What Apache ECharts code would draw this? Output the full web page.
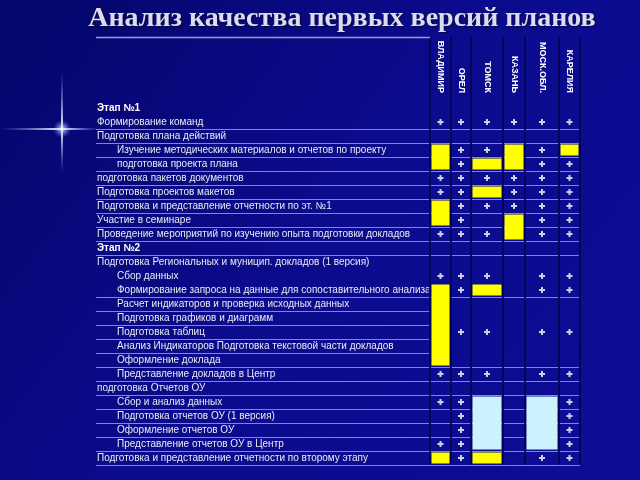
<!DOCTYPE html>
<html>
<head>
<meta charset="utf-8">
<script src="https://cdn.jsdelivr.net/npm/echarts@6/dist/echarts.min.js"></script>
<style>
  html, body { margin: 0; padding: 0; background: #0a0a88; }
  #chart { width: 640px; height: 480px; }
</style>
</head>
<body>
<div id="chart"></div>
<script>
// Регионы (столбцы)
var regions = ['ВЛАДИМИР', 'ОРЕЛ', 'ТОМСК', 'КАЗАНЬ', 'МОСК.ОБЛ.', 'КАРЕЛИЯ'];

// Строки таблицы
var tasks = [
  'Этап №1',
  'Формирование команд',
  'Подготовка плана действий',
  'Изучение методических материалов и отчетов по проекту',
  'подготовка проекта плана',
  'подготовка пакетов документов',
  'Подготовка проектов макетов',
  'Подготовка и представление отчетности по эт. №1',
  'Участие в семинаре',
  'Проведение мероприятий по изучению опыта подготовки докладов',
  'Этап №2',
  'Подготовка Региональных и муницип. докладов (1 версия)',
  'Сбор данных',
  'Формирование запроса на данные для сопоставительного анализа',
  'Расчет индикаторов и проверка исходных данных',
  'Подготовка графиков и диаграмм',
  'Подготовка таблиц',
  'Анализ Индикаторов Подготовка текстовой части докладов',
  'Оформление доклада',
  'Представление докладов в Центр',
  'подготовка Отчетов ОУ',
  'Сбор и анализ данных',
  'Подготовка отчетов ОУ (1 версия)',
  'Оформление отчетов ОУ',
  'Представление отчетов ОУ в Центр',
  'Подготовка и представление отчетности по второму этапу'
];

// 2 = заголовок этапа, 1 = подпункт, 0 = пункт
var level = [2, 0, 0, 1, 1, 0, 0, 0, 0, 0, 2, 0, 1, 1, 1, 1, 1, 1, 1, 1, 0, 1, 1, 1, 1, 0];

// Отметки по регионам: '+' выполнено, 'Y' желтая ячейка, 'B' голубая ячейка, '.' пусто
var marks = [
  '......',
  '++++++',
  '......',
  'Y++Y+Y',
  'Y+YY++',
  '++++++',
  '++Y+++',
  'Y+++++',
  'Y+.Y++',
  '+++Y++',
  '......',
  '......',
  '+++.++',
  'Y+Y.++',
  'Y.....',
  'Y.....',
  'Y++.++',
  'Y.....',
  'Y.....',
  '+++.++',
  '......',
  '++B.B+',
  '.+B.B+',
  '.+B.B+',
  '++B.B+',
  'Y+Y.++'
];

// Строки без линии снизу (в подписях и в ячейках)
var noLineRows = [0, 11, 12];
var noLineCellRows = [0, 11, 12, 14, 15, 16, 17];

// Разметка (в пикселях от левого края таблицы)
var colEdges = [334, 355, 375, 407, 429, 463, 484];
var headerHeight = 64;
var fillColors = { Y: '#ffff00', B: '#ccf2ff' };

var centers = [];
for (var c = 0; c < regions.length; c++) {
  centers.push((colEdges[c] + colEdges[c + 1]) / 2);
}

// Плюсы
var plusData = [];
for (var r = 0; r < marks.length; r++) {
  for (var c = 0; c < regions.length; c++) {
    if (marks[r][c] === '+') plusData.push([centers[c], r]);
  }
}

// Цветные блоки (соседние одинаковые ячейки объединяются)
var fillData = [];
for (var c = 0; c < regions.length; c++) {
  var r = 0;
  while (r < marks.length) {
    var t = marks[r][c];
    if (t === 'Y' || t === 'B') {
      var start = r;
      while (r + 1 < marks.length && marks[r + 1][c] === t) r++;
      fillData.push([colEdges[c], start, colEdges[c + 1], r, t]);
    }
    r++;
  }
}

// Горизонтальные линии
var lineData = [];
for (var r = 0; r < marks.length; r++) {
  if (noLineRows.indexOf(r) < 0) lineData.push([0, r, colEdges[0]]);
  if (noLineCellRows.indexOf(r) < 0) lineData.push([colEdges[0], r, colEdges[colEdges.length - 1]]);
}

var chart = echarts.init(document.getElementById('chart'));

var option = {
  backgroundColor: {
    type: 'linear', x: 0, y: 0, x2: 1, y2: 1,
    colorStops: [
      { offset: 0, color: '#05056a' },
      { offset: 0.5, color: '#0b0b8e' },
      { offset: 1, color: '#0d0d96' }
    ]
  },
  title: {
    text: 'Анализ качества первых версий планов',
    left: 337,
    textAlign: 'center',
    top: 0,
    textStyle: {
      fontFamily: 'Liberation Serif',
      fontWeight: 'bold',
      fontSize: 28,
      color: '#dcdcee',
      textShadowColor: 'rgba(0,0,0,0.6)',
      textShadowBlur: 2,
      textShadowOffsetX: 1,
      textShadowOffsetY: 1
    }
  },
  graphic: [
    {
      type: 'rect', silent: true,
      shape: { x: 0, y: 128, width: 100, height: 2 },
      style: {
        fill: {
          type: 'linear', x: 0, y: 0, x2: 1, y2: 0,
          colorStops: [
            { offset: 0, color: 'rgba(120,150,255,0)' },
            { offset: 0.62, color: 'rgba(255,255,255,1)' },
            { offset: 1, color: 'rgba(120,150,255,0)' }
          ]
        }
      }
    },
    {
      type: 'rect', silent: true,
      shape: { x: 61, y: 72, width: 2, height: 100 },
      style: {
        fill: {
          type: 'linear', x: 0, y: 0, x2: 0, y2: 1,
          colorStops: [
            { offset: 0, color: 'rgba(120,150,255,0)' },
            { offset: 0.57, color: 'rgba(255,255,255,1)' },
            { offset: 1, color: 'rgba(120,150,255,0)' }
          ]
        }
      }
    },
    {
      type: 'circle', silent: true,
      shape: { cx: 62, cy: 129, r: 9 },
      style: {
        fill: {
          type: 'radial', x: 0.5, y: 0.5, r: 0.5,
          colorStops: [
            { offset: 0, color: 'rgba(255,255,255,0.9)' },
            { offset: 1, color: 'rgba(100,140,255,0)' }
          ]
        }
      }
    }
  ],
  grid: {
    left: 96,
    right: 60,
    top: 101,
    bottom: 15
  },
  xAxis: {
    type: 'value',
    min: 0,
    max: colEdges[colEdges.length - 1],
    position: 'top',
    axisLine: { show: false },
    axisTick: { show: false },
    splitLine: { show: false },
    axisLabel: {
      customValues: centers,
      rotate: 90,
      margin: 8,
      color: '#ffffff',
      fontFamily: 'Liberation Sans Narrow, Liberation Sans',
      fontWeight: 'bold',
      fontSize: 9,
      formatter: function (v) {
        var best = 0;
        for (var i = 1; i < centers.length; i++) {
          if (Math.abs(centers[i] - v) < Math.abs(centers[best] - v)) best = i;
        }
        return regions[best];
      }
    }
  },
  yAxis: {
    type: 'category',
    data: tasks,
    inverse: true,
    axisLine: { show: false },
    axisTick: { show: false },
    splitLine: { show: false },
    axisLabel: {
      inside: true,
      margin: 1,
      interval: 0,
      formatter: function (v, i) {
        if (level[i] === 2) return '{h|' + v + '}';
        if (level[i] === 1) return '{i|' + v + '}';
        return '{n|' + v + '}';
      },
      rich: {
        h: { color: '#ffffff', fontFamily: 'Liberation Sans', fontWeight: 'bold', fontSize: 10 },
        n: { color: '#eaeaf4', fontFamily: 'Liberation Sans', fontSize: 10 },
        i: { color: '#eaeaf4', fontFamily: 'Liberation Sans', fontSize: 10, padding: [0, 0, 0, 20] }
      }
    }
  },
  series: [
    {
      // горизонтальные линии
      type: 'custom',
      silent: true,
      z: 1,
      data: lineData,
      renderItem: function (params, api) {
        var p0 = api.coord([api.value(0), api.value(1)]);
        var p1 = api.coord([api.value(2), api.value(1)]);
        var h = api.size([0, 1])[1];
        var y = Math.round(p0[1] + h / 2) + 0.5;
        return {
          type: 'line',
          shape: { x1: p0[0], y1: y, x2: p1[0], y2: y },
          style: { stroke: '#8086d6', lineWidth: 1.2 }
        };
      }
    },
    {
      // вертикальные разделители столбцов и верхняя линия шапки
      type: 'custom',
      silent: true,
      z: 2,
      data: colEdges.map(function (x) { return [x, 0]; }),
      renderItem: function (params, api) {
        var h = api.size([0, 1])[1];
        var top = api.coord([api.value(0), 0]);
        var bottom = api.coord([api.value(0), tasks.length - 1]);
        var x = Math.round(top[0]);
        var y0 = top[1] - h / 2 - headerHeight;
        var y1 = bottom[1] + h / 2;
        var children = [{
          type: 'line',
          shape: { x1: x, y1: y0, x2: x, y2: y1 },
          style: { stroke: '#040458', lineWidth: 2 }
        }];
        if (params.dataIndex === 0) {
          var left = api.coord([0, 0]);
          children.push({
            type: 'line',
            shape: { x1: left[0], y1: Math.round(y0) + 0.5, x2: x, y2: Math.round(y0) + 0.5 },
            style: { stroke: '#9a9ad8', lineWidth: 1.5 }
          });
        }
        return { type: 'group', children: children };
      }
    },
    {
      // желтые и голубые ячейки
      type: 'custom',
      silent: true,
      z: 3,
      data: fillData,
      renderItem: function (params, api) {
        var h = api.size([0, 1])[1];
        var a = api.coord([api.value(0), api.value(1)]);
        var b = api.coord([api.value(2), api.value(3)]);
        var kind = fillData[params.dataIndex][4];
        return {
          type: 'rect',
          shape: {
            x: a[0] + 1.5,
            y: a[1] - h / 2 + 1.5,
            width: b[0] - a[0] - 3,
            height: b[1] - a[1] + h - 3
          },
          style: { fill: fillColors[kind] }
        };
      }
    },
    {
      // плюсы
      type: 'scatter',
      silent: true,
      z: 4,
      data: plusData,
      symbol: 'path://M2,0h2v2h2v2h-2v2h-2v-2h-2v-2h2z',
      symbolSize: 6,
      itemStyle: { color: '#ffffff' }
    }
  ]
};

chart.setOption(option);
</script>
</body>
</html>
